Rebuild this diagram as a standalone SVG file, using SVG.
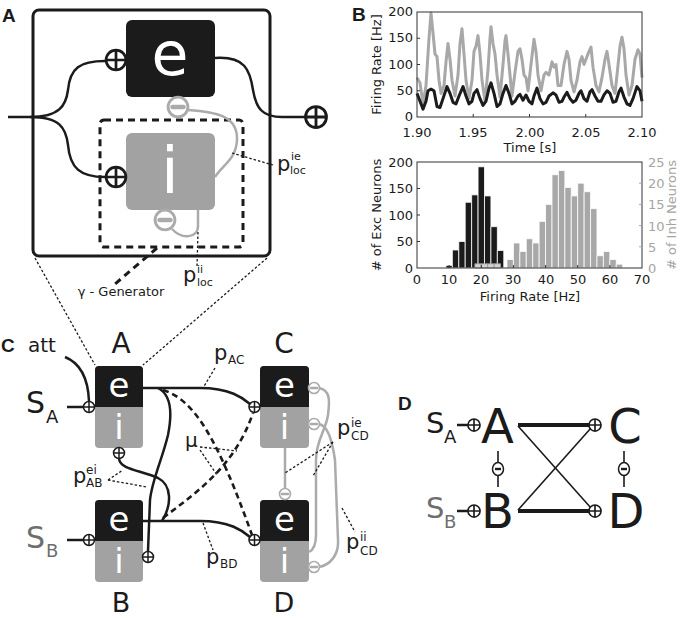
<svg xmlns="http://www.w3.org/2000/svg" xmlns:xlink="http://www.w3.org/1999/xlink" width="681" height="618" viewBox="0 0 681 618">
<style>
text{font-family:"DejaVu Sans",sans-serif;fill:#1b1b1b}
.pl{font-family:"Liberation Sans",Arial,sans-serif;font-weight:bold;font-size:19px}
.blk{fill:#1b1b1b}
.gry{fill:#a2a2a2}
.ln{fill:none;stroke:#1b1b1b;stroke-width:2.5}
.thk{fill:none;stroke:#1b1b1b;stroke-width:4}
.thin{fill:none;stroke:#1b1b1b;stroke-width:1.6}
.gl{fill:none;stroke:#ababab;stroke-width:2.5}
.dash{fill:none;stroke:#1b1b1b;stroke-width:2.6;stroke-dasharray:6 4}
.dot{fill:none;stroke:#1b1b1b;stroke-width:1.3;stroke-dasharray:2.5 2}
.tk{font-size:13px}
.ax{fill:none;stroke:#333;stroke-width:1}
.gt{fill:#a5a5a5}
</style>
<defs>
<g id="plusS"><circle r="5.5" fill="#fff" stroke="#1b1b1b" stroke-width="1.5"/><path d="M-5.5,0H5.5M0,-5.5V5.5" stroke="#1b1b1b" stroke-width="1.5"/></g>
<g id="minS"><circle r="5.5" fill="#fff" stroke="#ababab" stroke-width="1.6"/><path d="M-3,0H3" stroke="#ababab" stroke-width="2.6" stroke-linecap="round"/></g>
<g id="minK"><ellipse rx="5.5" ry="6.5" fill="#fff" stroke="#1b1b1b" stroke-width="1.5"/><path d="M-3,0H3" stroke="#1b1b1b" stroke-width="2.4"/></g>
</defs>

<!-- ================= Panel A ================= -->
<text class="pl" x="2" y="22">A</text>
<g id="gammaGenerator">
<rect x="33" y="10" width="237" height="246" rx="6" fill="none" stroke="#1b1b1b" stroke-width="3"/>
<rect x="100" y="120" width="143" height="127" rx="4" fill="none" stroke="#1b1b1b" stroke-width="3" stroke-dasharray="7 5"/>
</g>
<g id="connA">
<path class="ln" d="M8,117 H30 C60,117 66,105 68,90 C70,68 80,61 105,61"/>
<path class="ln" d="M30,117 C60,117 66,128 68,145 C70,168 80,177 105,177"/>
<path class="ln" d="M215,58 C245,56 250,70 253,90 C256,108 262,117 282,117 H305"/>
<path class="gl" d="M188,110 C215,112 238,115 237,140 C236,160 222,165 215,177"/>
<path class="gl" d="M198,210 V226 C198,238 182,240 172,229"/>
<path class="dot" d="M232,153 L273,165"/>
<path class="dot" d="M198,232 L197,267"/>
<path d="M157,248 L115,284" fill="none" stroke="#1b1b1b" stroke-width="3" stroke-dasharray="7 5"/>
<path class="dot" d="M35,258 L95,365"/>
<path class="dot" d="M267,258 L143,365"/>
</g>
<g id="popE">
<rect x="126" y="20" width="89" height="77" rx="6" class="blk"/>
<text x="170" y="75" font-size="60" text-anchor="middle" style="fill:#fff">e</text>
<use xlink:href="#plusS" href="#plusS" transform="translate(116,60) scale(1.8)"/>
<use xlink:href="#minS" href="#minS" transform="translate(178,107) scale(1.8)"/>
</g>
<g id="popI">
<rect x="126" y="133" width="89" height="77" rx="6" class="gry"/>
<text x="170" y="193" font-size="64" text-anchor="middle" style="fill:#fff">i</text>
<use xlink:href="#plusS" href="#plusS" transform="translate(116,177) scale(1.8)"/>
<use xlink:href="#minS" href="#minS" transform="translate(165,220) scale(1.8)"/>
</g>
<g id="outA"><use xlink:href="#plusS" href="#plusS" transform="translate(316,117) scale(1.9)"/></g>
<g id="labelsA">
<text x="277" y="171" font-size="21">p</text><text x="291" y="160" font-size="11">ie</text><text x="290" y="174" font-size="11">loc</text>
<text x="183" y="282" font-size="21">p</text><text x="197" y="273" font-size="11">ii</text><text x="197" y="286" font-size="11">loc</text>
<text x="121" y="296" font-size="13" text-anchor="middle">γ - Generator</text>
</g>

<!-- ================= Panel B ================= -->
<text class="pl" x="352" y="21">B</text>
<g id="rateplot">
<g transform="matrix(1 0 0 -0.525 0 117)">
<polyline fill="none" stroke="#a8a8a8" stroke-width="3" stroke-linejoin="round" vector-effect="non-scaling-stroke" points="417,75 420,65 423,25 426,60 429,150 431,198 433,160 435,120 437,115 439,70 441,45 444,60 446,105 448,140 450,110 452,70 455,40 458,80 460,140 462,168 464,120 466,70 469,35 472,70 474,125 476,135 478,155 480,120 482,70 485,30 488,90 490,150 491,172 493,140 495,120 497,80 500,38 503,100 505,145 506,155 508,120 510,80 512,40 515,85 518,125 520,130 522,110 524,80 526,75 528,50 531,100 534,148 536,125 538,80 541,50 544,80 546,85 549,80 552,105 554,95 556,100 558,60 561,60 564,100 567,125 569,110 571,70 574,48 577,70 580,105 582,115 584,100 586,110 589,125 591,133 593,95 596,60 599,48 602,75 605,110 607,125 609,100 612,60 615,45 617,80 620,135 622,152 624,130 626,80 629,42 632,60 635,110 638,128 640,120 642,75"/>
<polyline fill="none" stroke="#1b1b1b" stroke-width="3" stroke-linejoin="round" vector-effect="non-scaling-stroke" points="417,45 420,30 423,15 426,30 428,50 431,53 434,50 437,20 440,18 443,35 447,58 450,45 453,28 456,25 459,40 463,58 466,40 469,25 472,30 474,45 477,52 480,35 483,22 486,30 489,55 491,65 494,45 497,20 500,25 503,45 506,60 509,45 512,25 515,30 518,40 520,43 523,32 526,42 529,30 532,25 534,40 537,55 540,35 543,25 546,28 549,40 553,46 556,42 559,28 562,30 564,38 567,47 570,35 573,28 576,32 579,45 581,50 584,35 587,30 590,48 592,52 595,40 598,30 601,30 604,42 607,50 610,45 613,28 616,30 619,48 621,55 624,38 627,25 630,22 633,35 637,58 640,50 642,30"/>
</g>
<rect class="ax" x="417" y="12" width="225" height="105"/>
<path class="ax" d="M417,90.75h3M417,64.5h3M417,38.25h3M473.25,117v-3M529.5,117v-3M585.75,117v-3"/>
<g class="tk" text-anchor="end">
<text x="413" y="121">0</text><text x="413" y="95">50</text><text x="413" y="69">100</text><text x="413" y="42">150</text><text x="413" y="16">200</text>
</g>
<g class="tk" text-anchor="middle">
<text x="417" y="137">1.90</text><text x="473" y="137">1.95</text><text x="530" y="137">2.00</text><text x="586" y="137">2.05</text><text x="642" y="137">2.10</text>
<text x="530" y="152">Time [s]</text>
</g>
<text class="tk" transform="translate(381,64.5) rotate(-90)" text-anchor="middle">Firing Rate [Hz]</text>
</g>
<g id="histplot">
<g transform="matrix(3.214 0 0 -0.53 417 268)" fill="#1b1b1b" stroke="#fff" stroke-width="0.8">
<rect x="9" y="0" width="2" height="5" vector-effect="non-scaling-stroke"/>
<rect x="11" y="0" width="2" height="34" vector-effect="non-scaling-stroke"/>
<rect x="13" y="0" width="2" height="50" vector-effect="non-scaling-stroke"/>
<rect x="15" y="0" width="2" height="124" vector-effect="non-scaling-stroke"/>
<rect x="17" y="0" width="2" height="138" vector-effect="non-scaling-stroke"/>
<rect x="19" y="0" width="2" height="191" vector-effect="non-scaling-stroke"/>
<rect x="21" y="0" width="2" height="136" vector-effect="non-scaling-stroke"/>
<rect x="23" y="0" width="2" height="78" vector-effect="non-scaling-stroke"/>
<rect x="25" y="0" width="2" height="33" vector-effect="non-scaling-stroke"/>
</g>
<g transform="matrix(3.214 0 0 -4.24 417 268)" fill="#a8a8a8" stroke="#fff" stroke-width="0.8">
<rect x="18" y="0" width="2" height="1" fill="#d2d2d2" stroke="#9a9a9a" vector-effect="non-scaling-stroke"/>
<rect x="20" y="0" width="2" height="1" fill="#d2d2d2" stroke="#9a9a9a" vector-effect="non-scaling-stroke"/>
<rect x="22" y="0" width="2" height="1" fill="#d2d2d2" stroke="#9a9a9a" vector-effect="non-scaling-stroke"/>
<rect x="24" y="0" width="2" height="1" fill="#d2d2d2" stroke="#9a9a9a" vector-effect="non-scaling-stroke"/>
<rect x="28" y="0" width="2" height="2" vector-effect="non-scaling-stroke"/>
<rect x="30" y="0" width="2" height="5.9" vector-effect="non-scaling-stroke"/>
<rect x="32" y="0" width="2" height="3.9" vector-effect="non-scaling-stroke"/>
<rect x="34" y="0" width="2" height="6.9" vector-effect="non-scaling-stroke"/>
<rect x="36" y="0" width="2" height="5.9" vector-effect="non-scaling-stroke"/>
<rect x="38" y="0" width="2" height="11" vector-effect="non-scaling-stroke"/>
<rect x="40" y="0" width="2" height="15" vector-effect="non-scaling-stroke"/>
<rect x="42" y="0" width="2" height="22" vector-effect="non-scaling-stroke"/>
<rect x="44" y="0" width="2" height="23" vector-effect="non-scaling-stroke"/>
<rect x="46" y="0" width="2" height="19" vector-effect="non-scaling-stroke"/>
<rect x="48" y="0" width="2" height="17" vector-effect="non-scaling-stroke"/>
<rect x="50" y="0" width="2" height="20" vector-effect="non-scaling-stroke"/>
<rect x="52" y="0" width="2" height="18" vector-effect="non-scaling-stroke"/>
<rect x="54" y="0" width="2" height="14" vector-effect="non-scaling-stroke"/>
<rect x="56" y="0" width="2" height="2.9" vector-effect="non-scaling-stroke"/>
<rect x="58" y="0" width="2" height="3.9" vector-effect="non-scaling-stroke"/>
<rect x="60" y="0" width="2" height="2" vector-effect="non-scaling-stroke"/>
<rect x="62" y="0" width="2" height="0.9" vector-effect="non-scaling-stroke"/>
</g>
<rect class="ax" x="417" y="162" width="225" height="106"/>
<path class="ax" d="M417,241.5h3M417,215h3M417,188.5h3M449.1,268v-3M481.3,268v-3M513.4,268v-3M545.6,268v-3M577.7,268v-3M609.9,268v-3"/>
<path d="M642,246.8h-3M642,225.6h-3M642,204.4h-3M642,183.2h-3" fill="none" stroke="#a5a5a5"/>
<g class="tk" text-anchor="end">
<text x="413" y="273">0</text><text x="413" y="246">50</text><text x="413" y="220">100</text><text x="413" y="193">150</text><text x="413" y="167">200</text>
</g>
<g class="tk">
<text x="648" y="273" style="fill:#a5a5a5">0</text><text x="648" y="252" style="fill:#a5a5a5">5</text><text x="648" y="231" style="fill:#a5a5a5">10</text><text x="648" y="209" style="fill:#a5a5a5">15</text><text x="648" y="188" style="fill:#a5a5a5">20</text><text x="648" y="167" style="fill:#a5a5a5">25</text>
</g>
<g class="tk" text-anchor="middle">
<text x="417" y="284">0</text><text x="449" y="284">10</text><text x="481" y="284">20</text><text x="513" y="284">30</text><text x="546" y="284">40</text><text x="578" y="284">50</text><text x="610" y="284">60</text><text x="642" y="284">70</text>
<text x="530" y="301">Firing Rate [Hz]</text>
</g>
<text class="tk" transform="translate(381,215) rotate(-90)" text-anchor="middle"># of Exc Neurons</text>
<text class="tk" transform="translate(676,215) rotate(-90)" text-anchor="middle" style="fill:#a5a5a5"># of Inh Neurons</text>
</g>

<!-- ================= Panel C ================= -->
<text class="pl" x="1" y="352">C</text>
<g id="connectorsC">
<path class="ln" d="M65,357 C80,363 88,378 89,401"/>
<path class="ln" d="M67,407 H84"/>
<path class="ln" d="M67,540 H84"/>
<path class="ln" d="M143,388 H200 C230,388 243,398 250,404"/>
<path class="ln" d="M143,521 H200 C230,521 243,531 250,537"/>
<path class="ln" d="M158,388 C172,395 172,415 168,435 C162,460 152,480 150,500 L148,551"/>
<path class="ln" d="M119,459 C121,470 140,470 158,478 C172,485 172,505 162,521"/>
<path class="dash" d="M163,390 C195,400 218,440 252,535"/>
<path class="dash" d="M163,518 C200,490 235,465 253,413"/>
<path class="gl" d="M285,448 V488"/>
<path class="gl" d="M319,388 C330,390 330,400 328,415 C326,430 316,440 316,460 L316,535 C316,545 313,550 309,552"/>
<path class="gl" d="M319,424 C328,426 332,440 335,460 L338,540 C339,555 330,565 319,567"/>
<path class="dot" d="M215,368 L203,388"/>
<path class="dot" d="M200,447 L237,451"/>
<path class="dot" d="M200,450 L217,475"/>
<path class="dot" d="M108,480 L123,470"/>
<path class="dot" d="M108,480 L147,487"/>
<path class="dot" d="M333,442 L285,473"/>
<path class="dot" d="M333,442 L313,476"/>
<path class="dot" d="M342,508 L355,532"/>
<path class="dot" d="M203,523 L213,550"/>
</g>
<g id="nodeA">
<rect x="95" y="366" width="48" height="82" rx="4" class="gry"/>
<path d="M99,366 H139 A4,4 0 0 1 143,370 V407 H95 V370 A4,4 0 0 1 99,366 Z" class="blk"/>
<text x="119" y="397" font-size="34" text-anchor="middle" style="fill:#fff">e</text>
<text x="119" y="439" font-size="34" text-anchor="middle" style="fill:#fff">i</text>
<text x="121" y="353" font-size="28" text-anchor="middle">A</text>
<use xlink:href="#plusS" href="#plusS" x="89" y="407"/>
<use xlink:href="#plusS" href="#plusS" x="119" y="453"/>
</g>
<g id="nodeB">
<rect x="95" y="500" width="48" height="82" rx="4" class="gry"/>
<path d="M99,500 H139 A4,4 0 0 1 143,504 V541 H95 V504 A4,4 0 0 1 99,500 Z" class="blk"/>
<text x="119" y="531" font-size="34" text-anchor="middle" style="fill:#fff">e</text>
<text x="119" y="573" font-size="34" text-anchor="middle" style="fill:#fff">i</text>
<text x="121" y="612" font-size="27" text-anchor="middle">B</text>
<use xlink:href="#plusS" href="#plusS" x="89" y="540"/>
<use xlink:href="#plusS" href="#plusS" x="148" y="557"/>
</g>
<g id="nodeC">
<rect x="260" y="366" width="49" height="82" rx="4" class="gry"/>
<path d="M264,366 H305 A4,4 0 0 1 309,370 V407 H260 V370 A4,4 0 0 1 264,366 Z" class="blk"/>
<text x="284.5" y="397" font-size="34" text-anchor="middle" style="fill:#fff">e</text>
<text x="284.5" y="439" font-size="34" text-anchor="middle" style="fill:#fff">i</text>
<text x="284" y="353" font-size="28" text-anchor="middle">C</text>
<use xlink:href="#plusS" href="#plusS" x="254.5" y="407"/>
<use xlink:href="#minS" href="#minS" x="314" y="388"/>
<use xlink:href="#minS" href="#minS" x="314" y="424"/>
</g>
<g id="nodeD">
<rect x="260" y="500" width="49" height="82" rx="4" class="gry"/>
<path d="M264,500 H305 A4,4 0 0 1 309,504 V541 H260 V504 A4,4 0 0 1 264,500 Z" class="blk"/>
<text x="284.5" y="531" font-size="34" text-anchor="middle" style="fill:#fff">e</text>
<text x="284.5" y="573" font-size="34" text-anchor="middle" style="fill:#fff">i</text>
<text x="284" y="612" font-size="27" text-anchor="middle">D</text>
<use xlink:href="#plusS" href="#plusS" x="254.5" y="540"/>
<use xlink:href="#minS" href="#minS" x="285" y="494"/>
<use xlink:href="#minS" href="#minS" x="314" y="567"/>
</g>
<g id="labelsC">
<text x="28" y="352" font-size="20">att</text>
<text x="26" y="413" font-size="30">S</text><text x="46" y="423" font-size="18">A</text>
<text x="26" y="548" font-size="30" style="fill:#6e6e6e">S</text><text x="46" y="557" font-size="18" style="fill:#6e6e6e">B</text>
<text x="214" y="360" font-size="21">p</text><text x="228" y="364" font-size="12">AC</text>
<text x="185" y="447" font-size="20">μ</text>
<text x="73" y="483" font-size="21">p</text><text x="86" y="474" font-size="12">ei</text><text x="86" y="487" font-size="12">AB</text>
<text x="337" y="435" font-size="21">p</text><text x="351" y="427" font-size="12">ie</text><text x="351" y="440" font-size="12">CD</text>
<text x="346" y="549" font-size="21">p</text><text x="360" y="541" font-size="12">ii</text><text x="360" y="555" font-size="12">CD</text>
<text x="206" y="564" font-size="21">p</text><text x="220" y="568" font-size="12">BD</text>
</g>

<!-- ================= Panel D ================= -->
<text class="pl" x="398" y="410">D</text>
<g id="connectorsD">
<path class="thk" d="M518,425 H589"/>
<path class="thk" d="M518,511 H589"/>
<path class="thin" d="M518,426 L591,508"/>
<path class="thin" d="M518,510 L591,428"/>
<path class="ln" d="M457,425 H469"/>
<path class="ln" d="M457,511 H469"/>
<path class="thin" d="M498,451 V487"/>
<path class="thin" d="M624,451 V487"/>
<use xlink:href="#minK" href="#minK" x="498" y="469"/>
<use xlink:href="#minK" href="#minK" x="624" y="469"/>
</g>
<g id="dA"><text x="497.5" y="443" font-size="48" text-anchor="middle">A</text></g>
<g id="dB"><text x="497.5" y="528" font-size="48" text-anchor="middle">B</text></g>
<g id="dC"><text x="625" y="443" font-size="48" text-anchor="middle">C</text>
<use xlink:href="#plusS" href="#plusS" transform="translate(595,425) scale(1.1)"/></g>
<g id="dD"><text x="626" y="528" font-size="48" text-anchor="middle">D</text>
<use xlink:href="#plusS" href="#plusS" transform="translate(595,511) scale(1.1)"/></g>
<g id="dSA"><text x="426" y="433" font-size="29">S</text><text x="444" y="443" font-size="18">A</text>
<use xlink:href="#plusS" href="#plusS" transform="translate(474,425) scale(1.1)"/></g>
<g id="dSB"><text x="426" y="518" font-size="29" style="fill:#6e6e6e">S</text><text x="444" y="528" font-size="18" style="fill:#6e6e6e">B</text>
<use xlink:href="#plusS" href="#plusS" transform="translate(474,511) scale(1.1)"/></g>
</svg>
